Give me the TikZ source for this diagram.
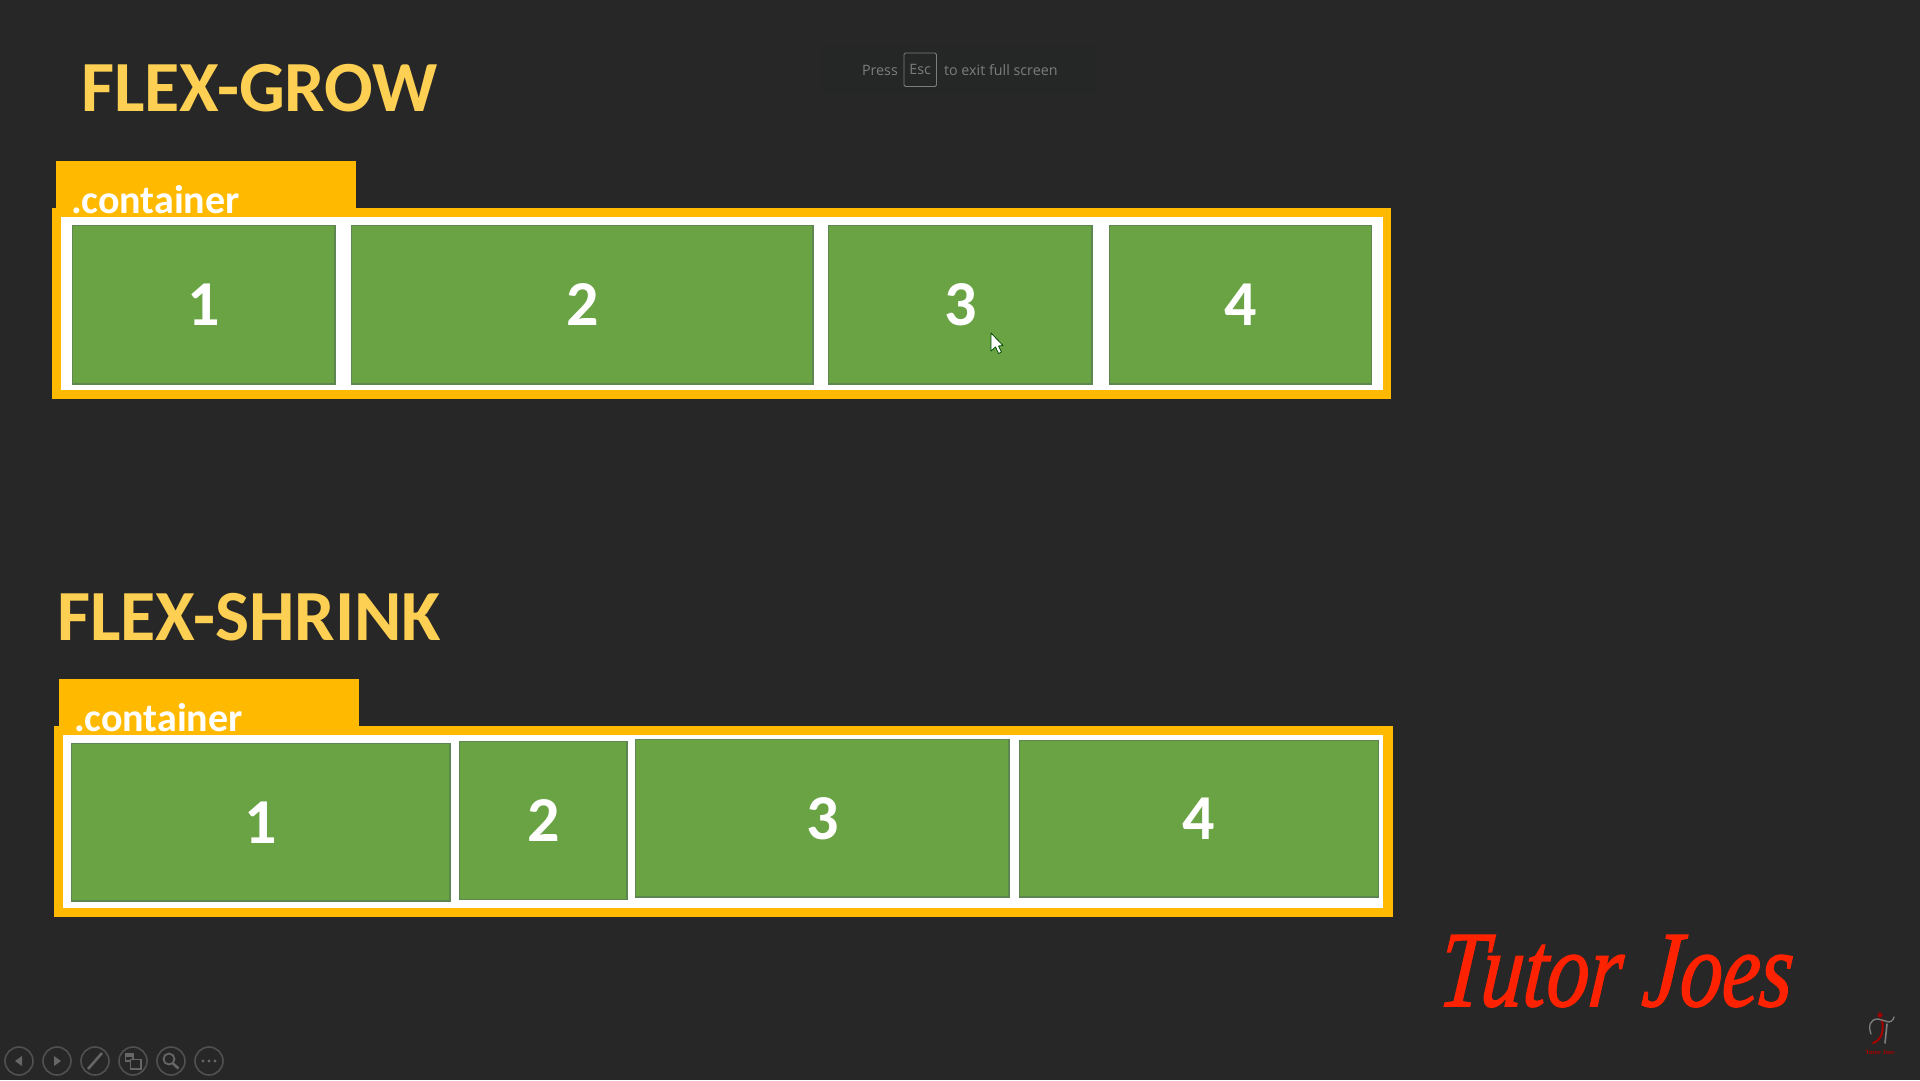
\documentclass[tikz,border=0pt]{standalone}
\usepackage{fontspec}
\setmainfont{Carlito}
\newfontfamily\uifont{Open Sans}
\newfontfamily\brandfont[ItalicFeatures={FakeSlant=0.12,FakeBold=1.5}]{Liberation Serif}
\definecolor{bgc}{HTML}{272727}
\definecolor{hintbg}{HTML}{252626}
\definecolor{orangec}{HTML}{FFBA00}
\definecolor{titlec}{HTML}{FDD053}
\definecolor{greenc}{HTML}{6AA344}
\definecolor{greenb}{HTML}{5E8650}
\definecolor{hintc}{HTML}{7D7D7D}
\definecolor{toolc}{HTML}{505050}
\definecolor{toolg}{HTML}{666666}
\definecolor{brandc}{HTML}{FF2200}
\tikzset{
  x=1pt,y=-1pt,
  flat/.style={inner sep=0pt,outer sep=0pt,line width=0pt},
  titletext/.style={flat,anchor=base west,text=titlec,font=\fontsize{72}{72}\selectfont\bfseries},
  tabtext/.style={flat,anchor=base west,text=white,font=\fontsize{40}{40}\selectfont\bfseries},
  cell/.style={flat,anchor=north west,draw=greenb,line width=1.2pt,fill=greenc,text=white,xshift=0.6pt,yshift=-0.6pt,text height=42.4pt,text depth=0pt,font=\fontsize{64}{64}\selectfont\bfseries},
  toolring/.style={flat,circle,draw=toolc,line width=1.6pt,minimum size=28pt,anchor=center},
  hint/.style={flat,anchor=base west,text=hintc,font=\uifont\fontsize{14.3}{14.3}\selectfont},
}
\begin{document}
\begin{tikzpicture}
\useasboundingbox (0,0) rectangle (1920,1080);
\fill[bgc] (0,0) rectangle (1920,1080);
% fullscreen hint
\fill[hintbg] (822,45) rectangle (1097,94);
\node[hint] (press) at (862,75) {Press};
\node[flat,anchor=north west,draw=hintc,line width=0.9pt,rounded corners=1.5pt,minimum width=32.5pt,minimum height=33.5pt,text=hintc,font=\uifont\fontsize{14.3}{14.3}\selectfont] (esc) at (904,53) {Esc};
\node[hint] (exit) at (944,75) {to exit full screen};
% FLEX-GROW
\node[titletext] (t1) at (81,111) {FLEX-GROW};
\fill[orangec] (55.5,161) rectangle (355.5,210);
\fill[orangec] (52,207.5) rectangle (1391,399);
\fill[white] (61,217) rectangle (1382.5,390);
\node[tabtext] (c1) at (71,213.5) {.container};
\node[cell,minimum width=262.3pt,minimum height=158.3pt] (g1) at (72,225) {1};
\node[cell,minimum width=461.3pt,minimum height=158.3pt] (g2) at (351,225) {2};
\node[cell,minimum width=263.3pt,minimum height=158.3pt] (g3) at (828,225) {3};
\node[cell,minimum width=262.3pt,minimum height=158.3pt] (g4) at (1108.5,225) {4};
% cursor
\draw[black!70!green,line width=0.8pt,fill=white,line join=round]
  (991,333) -- (991,351) -- (995.5,347) -- (998.5,353.5) -- (1001.5,352) -- (998.5,346) -- (1003,345.5) -- cycle;
% FLEX-SHRINK
\node[titletext] (t2) at (57,640) {FLEX-SHRINK};
\fill[orangec] (59,679) rectangle (358.5,728);
\fill[orangec] (54,726) rectangle (1393,917);
\fill[white] (63,735) rectangle (1383,908);
\node[tabtext] (c2) at (74,731.5) {.container};
\node[cell,minimum width=378.3pt,minimum height=157.8pt] (s1) at (71,742.5) {1};
\node[cell,minimum width=167.3pt,minimum height=158.3pt] (s2) at (459,740.5) {2};
\node[cell,minimum width=373.3pt,minimum height=157.8pt] (s3) at (635,738.5) {3};
\node[cell,minimum width=359.3pt,minimum height=156.8pt] (s4) at (1018.5,739.5) {4};
% brand
\node[flat,anchor=base west,text=brandc,xscale=0.78,font=\brandfont\itshape\fontsize{108}{108}\selectfont] (brand) at (1437,1006) {Tutor Joes};
% small logo
\fill[red!60!black] (1880,1015) circle (2.6);
\draw[red!65!black,line width=2pt,line cap=round] (1882,1020) .. controls (1884,1030) and (1882,1040) .. (1873,1043);
\draw[gray,line width=1.3pt,line cap=round] (1871,1034) .. controls (1868,1026) and (1870,1019) .. (1878,1019) -- (1889,1022) .. controls (1893,1021) and (1894,1018) .. (1894,1017);
\draw[gray,line width=1.6pt,line cap=round] (1887,1024) -- (1885,1043);
\node[flat,anchor=center,text=red!65!black,font=\brandfont\bfseries\fontsize{6.5}{6.5}\selectfont] (brandsmall) at (1880,1052.5) {Tutor Joes};
% toolbar
\node[toolring] (b1) at (19,1061) {};
\node[toolring] (b2) at (57,1061) {};
\node[toolring] (b3) at (95,1061) {};
\node[toolring] (b4) at (133,1061) {};
\node[toolring] (b5) at (171,1061) {};
\node[toolring] (b6) at (209,1061) {};
\fill[toolg] (15,1061) -- (22,1056) -- (22,1066) -- cycle;
\fill[toolg] (61,1061) -- (54,1056) -- (54,1066) -- cycle;
\draw[toolg,line width=2.6pt] (88,1069) -- (102,1053);
\draw[toolg,line width=1.3pt] (125.5,1054) rectangle (133,1061);
\fill[toolg] (125.5,1054) rectangle (133,1057);
\draw[toolg,line width=1.3pt,fill=bgc] (130.5,1059.5) rectangle (141,1069);
\draw[toolg,line width=1.8pt] (169,1059) circle (5.5);
\draw[toolg,line width=2.6pt] (173,1063.5) -- (178.5,1068.5);
\fill[toolg] (203,1061) circle (1.6) (209,1061) circle (1.6) (215,1061) circle (1.6);
\end{tikzpicture}
\end{document}
